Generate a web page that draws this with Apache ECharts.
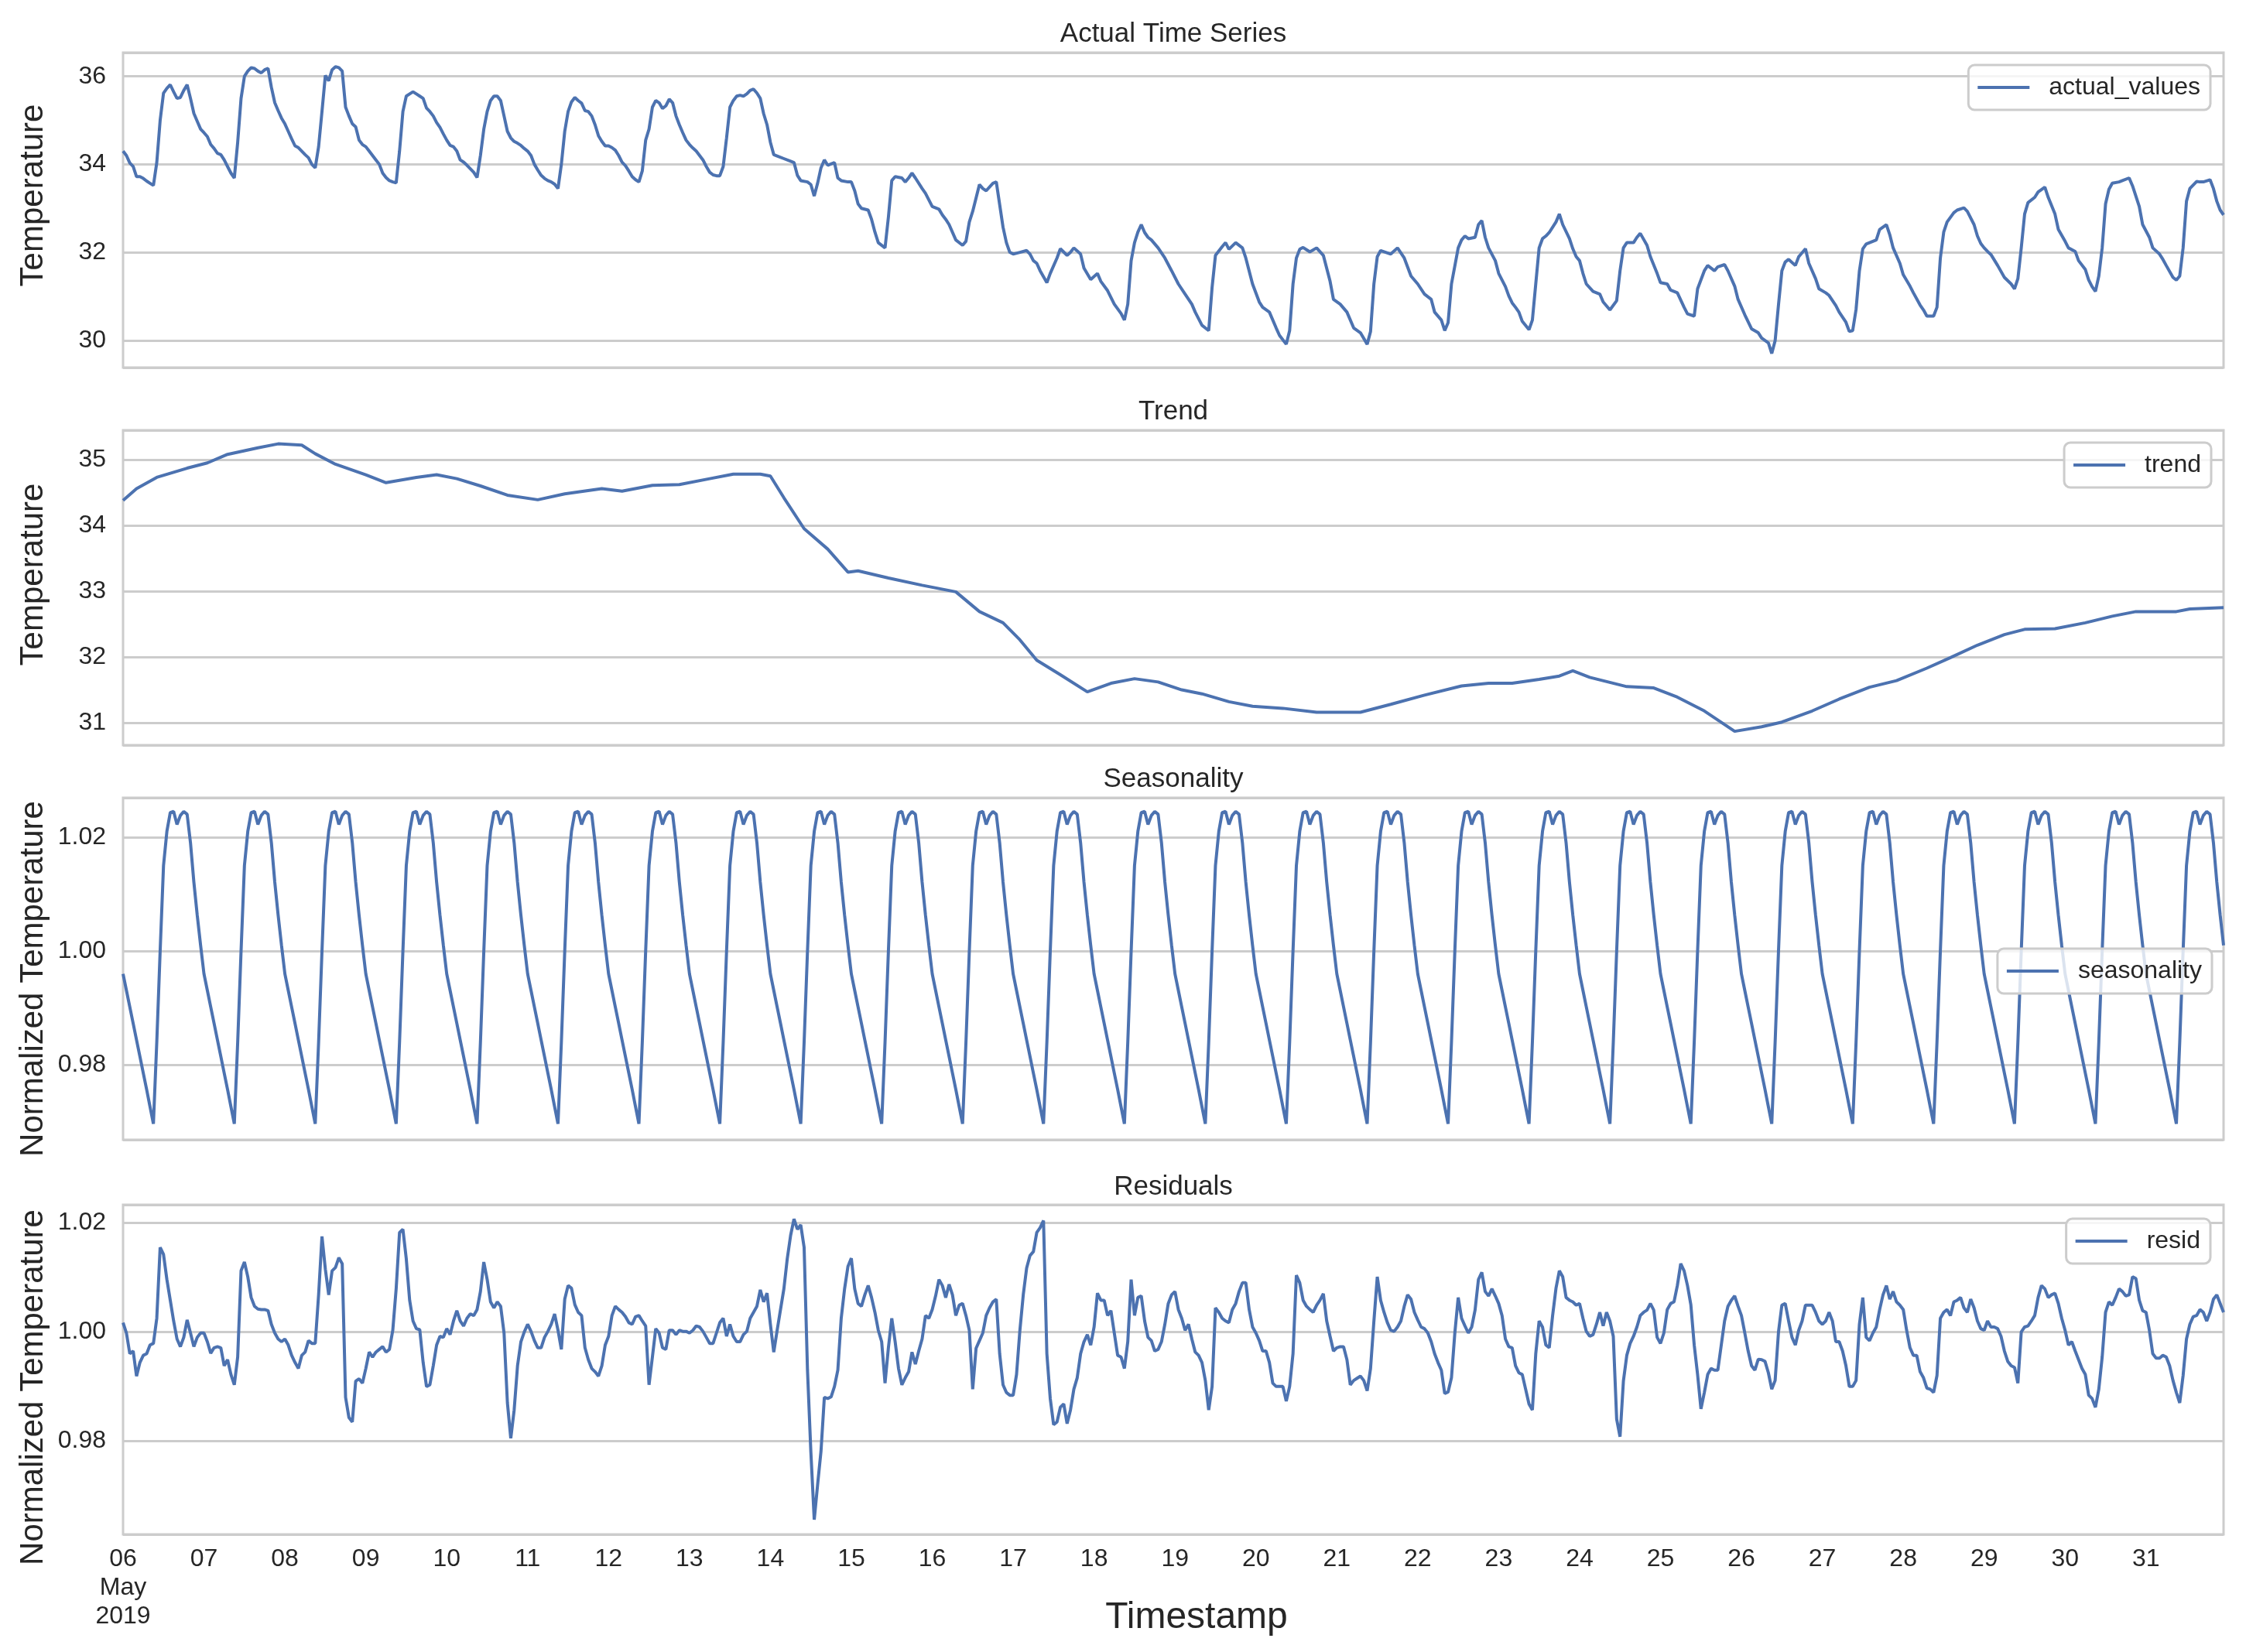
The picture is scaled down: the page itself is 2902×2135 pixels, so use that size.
<!DOCTYPE html>
<html>
<head>
<meta charset="utf-8">
<script src="https://cdn.jsdelivr.net/npm/echarts@6/dist/echarts.min.js"></script>
<style>
html,body{margin:0;padding:0;background:#ffffff;}
#chart{width:2902px;height:2135px;}
</style>
</head>
<body>
<div id="chart"></div>
<script>
// ---------- tick labels ----------
const xTickLabels = ['06\nMay\n2019','07','08','09','10','11','12','13','14','15','16','17','18','19','20','21','22','23','24','25','26','27','28','29','30','31'];
const panelTitles = ['Actual Time Series','Trend','Seasonality','Residuals'];
const seriesNames = ['actual_values','trend','seasonality','resid'];
const yNames = ['Temperature','Temperature','Normalized Temperature','Normalized Temperature'];

// ---------- actual values (hourly from 2019-05-06 00:00) ----------
const actualEarly = [
34.30,34.20,34.03,33.95,33.72,33.72,33.68,33.62,33.57,33.52,34.04,35.00,35.62,35.73,35.81,35.65,35.50,35.52,35.68,35.81,35.50,35.16,34.98,34.80,
34.72,34.63,34.45,34.36,34.25,34.22,34.10,33.95,33.80,33.69,34.50,35.50,36.00,36.12,36.20,36.18,36.12,36.08,36.15,36.18,35.75,35.40,35.22,35.05,
34.92,34.75,34.58,34.42,34.38,34.30,34.22,34.15,34.00,33.92,34.40,35.20,36.02,35.90,36.15,36.22,36.20,36.12,35.30,35.10,34.92,34.85,34.55,34.45,
34.40,34.30,34.20,34.10,34.00,33.80,33.70,33.63,33.60,33.58,34.30,35.20,35.55,35.60,35.65,35.60,35.55,35.50,35.28,35.20,35.10,34.95,34.84,34.69,
34.55,34.43,34.40,34.30,34.10,34.05,33.98,33.90,33.82,33.70,34.20,34.80,35.20,35.45,35.55,35.55,35.45,35.10,34.75,34.60,34.52,34.48,34.43,34.36,
34.30,34.20,34.00,33.87,33.75,33.68,33.63,33.60,33.55,33.45,34.00,34.75,35.20,35.42,35.52,35.45,35.39,35.22,35.20,35.10,34.90,34.65,34.52,34.42,
34.42,34.38,34.32,34.20,34.05,33.97,33.85,33.72,33.65,33.60,33.85,34.55,34.80,35.30,35.45,35.40,35.27,35.33,35.48,35.40,35.10,34.90,34.72,34.55,
34.45,34.37,34.30,34.20,34.10,33.95,33.82,33.76,33.74,33.74,33.95,34.60,35.30,35.45,35.55,35.57,35.55,35.60,35.68,35.71,35.62,35.50,35.15,34.90
];
// [hour offset, value]
const actualLate = [
[192,34.50],[193,34.22],[194,34.19],[196,34.13],[198,34.07],[199,34.04],[200,33.75],[201,33.63],[203,33.60],[204,33.54],[205,33.28],[206,33.57],[207,33.92],[208,34.10],[209,33.98],[211,34.04],[212,33.69],[213,33.63],[215,33.60],[216,33.60],[217,33.40],[218,33.10],[219,33.00],[221,32.96],[222,32.75],[223,32.46],[224,32.22],[226,32.10],[227,32.80],[228,33.63],[229,33.72],[231,33.69],[232,33.60],[233,33.69],[234,33.80],[235,33.69],[237,33.45],[238,33.34],[240,33.04],[242,32.98],[243,32.85],[244,32.75],[245,32.63],[247,32.28],[249,32.16],[250,32.25],[251,32.69],[252,32.93],[254,33.54],[255,33.45],[256,33.40],[258,33.57],[259,33.60],[261,32.57],[262,32.22],[263,32.00],[264,31.96],[266,32.00],[268,32.04],[269,31.96],[270,31.81],[271,31.75],[272,31.58],[274,31.31],[275,31.52],[277,31.87],[278,32.08],[280,31.93],[281,32.00],[282,32.10],[284,31.96],[285,31.64],[287,31.38],[289,31.52],[290,31.34],[292,31.13],[294,30.82],[296,30.61],[297,30.46],[298,30.82],[299,31.81],[300,32.22],[301,32.46],[302,32.63],[303,32.45],[304,32.34],[305,32.28],[307,32.10],[309,31.87],[311,31.58],[313,31.28],[315,31.05],[317,30.82],[318,30.64],[320,30.34],[322,30.22],[323,31.20],[324,31.93],[326,32.13],[327,32.22],[328,32.07],[330,32.22],[332,32.10],[333,31.87],[335,31.28],[337,30.87],[338,30.75],[340,30.64],[342,30.28],[343,30.11],[345,29.91],[346,30.22],[347,31.28],[348,31.87],[349,32.07],[350,32.11],[352,32.01],[354,32.10],[356,31.93],[358,31.34],[359,30.93],[361,30.82],[363,30.64],[365,30.28],[367,30.17],[369,29.91],[370,30.20],[371,31.28],[372,31.90],[373,32.04],[376,31.96],[378,32.10],[380,31.87],[382,31.46],[384,31.28],[386,31.05],[388,30.93],[389,30.64],[391,30.46],[392,30.22],[393,30.40],[394,31.28],[396,32.10],[397,32.28],[398,32.37],[399,32.31],[401,32.34],[402,32.63],[403,32.72],[404,32.34],[405,32.10],[407,31.81],[408,31.52],[410,31.22],[411,31.01],[412,30.85],[413,30.75],[414,30.64],[415,30.43],[417,30.24],[418,30.46],[419,31.28],[420,32.10],[421,32.31],[422,32.37],[423,32.45],[425,32.69],[426,32.87],[427,32.63],[429,32.31],[430,32.08],[431,31.90],[432,31.81],[433,31.52],[434,31.28],[436,31.11],[438,31.05],[439,30.87],[441,30.69],[443,30.90],[444,31.58],[445,32.10],[446,32.22],[448,32.22],[449,32.34],[450,32.43],[452,32.16],[453,31.90],[455,31.52],[456,31.31],[458,31.28],[459,31.14],[461,31.08],[463,30.75],[464,30.60],[466,30.55],[467,31.17],[469,31.58],[470,31.70],[472,31.58],[473,31.67],[475,31.72],[476,31.58],[478,31.23],[479,30.93],[481,30.58],[483,30.26],[485,30.17],[486,30.05],[488,29.94],[489,29.70],[490,29.99],[491,30.81],[492,31.58],[493,31.78],[494,31.84],[496,31.70],[497,31.90],[499,32.08],[500,31.75],[502,31.40],[503,31.17],[505,31.08],[506,31.02],[508,30.79],[509,30.64],[511,30.41],[512,30.20],[513,30.22],[514,30.70],[515,31.58],[516,32.08],[517,32.19],[519,32.25],[520,32.28],[521,32.52],[523,32.63],[524,32.40],[525,32.10],[527,31.75],[528,31.49],[530,31.23],[531,31.08],[533,30.80],[534,30.69],[535,30.55],[537,30.55],[538,30.75],[539,31.87],[540,32.46],[541,32.69],[543,32.90],[544,32.96],[546,33.01],[547,32.93],[549,32.63],[550,32.37],[551,32.20],[552,32.10],[553,32.02],[554,31.95],[556,31.70],[558,31.43],[560,31.28],[561,31.17],[562,31.40],[563,32.10],[564,32.87],[565,33.13],[567,33.25],[568,33.37],[570,33.48],[571,33.25],[573,32.87],[574,32.52],[576,32.25],[577,32.10],[579,32.02],[580,31.81],[582,31.61],[583,31.37],[584,31.22],[585,31.11],[586,31.46],[587,32.10],[588,33.10],[589,33.43],[590,33.57],[592,33.60],[593,33.63],[595,33.69],[596,33.51],[598,33.04],[599,32.63],[601,32.34],[602,32.10],[604,31.96],[605,31.84],[606,31.70],[608,31.43],[609,31.37],[610,31.46],[611,32.10],[612,33.16],[613,33.45],[615,33.61],[616,33.60],[617,33.60],[619,33.65],[620,33.45],[621,33.16],[622,32.96],[623,32.85]
];

// ---------- trend [hour offset, value] ----------
const trendPoints = [
[0,34.38],[4,34.56],[10,34.73],[19,34.87],[25,34.95],[31,35.08],[40,35.18],[46,35.24],[53,35.22],[57,35.09],[63,34.93],[72,34.77],[78,34.65],[87,34.73],[93,34.77],[99,34.71],[106,34.60],[114,34.46],[123,34.39],[131,34.48],[142,34.56],[148,34.52],[157,34.61],[165,34.62],[174,34.71],[181,34.78],[189,34.78],[192,34.75],[196,34.42],[202,33.95],[209,33.64],[215,33.29],[218,33.31],[227,33.20],[237,33.09],[247,32.99],[254,32.69],[261,32.52],[266,32.26],[271,31.95],[278,31.73],[286,31.47],[293,31.60],[300,31.67],[307,31.62],[314,31.50],[320,31.44],[328,31.32],[335,31.25],[344,31.22],[354,31.16],[367,31.16],[376,31.28],[386,31.42],[397,31.56],[405,31.60],[412,31.60],[420,31.66],[426,31.71],[430,31.79],[435,31.69],[446,31.55],[454,31.53],[461,31.39],[469,31.18],[478,30.87],[486,30.94],[492,31.01],[501,31.18],[509,31.36],[518,31.54],[526,31.64],[535,31.83],[542,31.99],[550,32.18],[558,32.34],[564,32.42],[573,32.43],[582,32.52],[590,32.62],[597,32.69],[609,32.69],[613,32.73],[623,32.75]
];

// ---------- seasonality: one daily cycle (hours 0..23), same every day ----------
const seasonalDay = [0.9960,0.9931,0.9902,0.9873,0.9844,0.9815,0.9786,0.9757,0.9727,0.9697,0.9840,1.0000,1.0150,1.0210,1.0243,1.0245,1.0222,1.0238,1.0245,1.0240,1.0190,1.0121,1.0063,1.0010];
const nDays = 26;

// ---------- residuals (hourly) ----------
const residValues = [
1.0017,0.9998,0.9960,0.9965,0.9919,0.9944,0.9957,0.9960,0.9976,0.9979,
1.0025,1.0155,1.0142,1.0096,1.0058,1.0020,0.9987,0.9973,0.9990,1.0022,
0.9998,0.9973,0.9990,0.9998,0.9998,0.9982,0.9961,0.9971,0.9973,0.9971,
0.9938,0.9949,0.9922,0.9903,0.9954,1.0112,1.0128,1.0101,1.0063,1.0047,
1.0042,1.0041,1.0041,1.0039,1.0014,0.9998,0.9987,0.9982,0.9987,0.9976,
0.9957,0.9944,0.9933,0.9957,0.9963,0.9984,0.9979,0.9979,1.0068,1.0175,
1.0115,1.0068,1.0112,1.0118,1.0136,1.0125,0.9880,0.9843,0.9835,0.9910,
0.9914,0.9906,0.9933,0.9963,0.9954,0.9963,0.9968,0.9973,0.9963,0.9968,
1.0003,1.0079,1.0182,1.0188,1.0134,1.0058,1.0020,1.0006,1.0004,0.9944,
0.9900,0.9903,0.9938,0.9976,0.9992,0.9990,1.0006,0.9995,1.0020,1.0039,
1.0020,1.0011,1.0025,1.0033,1.0030,1.0041,1.0074,1.0128,1.0096,1.0055,
1.0044,1.0055,1.0047,0.9998,0.9870,0.9805,0.9857,0.9938,0.9982,1.0000,
1.0014,1.0001,0.9984,0.9971,0.9971,0.9990,1.0001,1.0014,1.0033,1.0003,
0.9968,1.0060,1.0085,1.0080,1.0050,1.0036,1.0030,0.9971,0.9949,0.9933,
0.9927,0.9919,0.9938,0.9976,0.9992,1.0030,1.0047,1.0041,1.0036,1.0028,
1.0017,1.0014,1.0028,1.0030,1.0020,1.0011,0.9903,0.9954,1.0006,0.9998,
0.9971,0.9968,1.0003,1.0003,0.9995,1.0003,1.0001,1.0001,0.9998,1.0003,
1.0011,1.0009,1.0001,0.9990,0.9979,0.9979,0.9998,1.0017,1.0025,0.9992,
1.0014,0.9992,0.9982,0.9982,0.9995,1.0001,1.0025,1.0036,1.0047,1.0077,
1.0055,1.0071,1.0014,0.9963,1.0003,1.0041,1.0079,1.0134,1.0177,1.0207,
1.0188,1.0196,1.0155,0.9930,0.9780,0.9656,0.9720,0.9781,0.9880,0.9878,
0.9881,0.9900,0.9930,1.0025,1.0079,1.0120,1.0135,1.0079,1.0052,1.0047,
1.0068,1.0085,1.0063,1.0036,1.0003,0.9982,0.9906,0.9971,1.0025,0.9982,
0.9933,0.9903,0.9916,0.9927,0.9963,0.9941,0.9965,0.9987,1.0030,1.0025,
1.0041,1.0066,1.0096,1.0085,1.0063,1.0087,1.0068,1.0030,1.0049,1.0052,
1.0030,1.0003,0.9895,0.9970,0.9984,0.9998,1.0030,1.0044,1.0055,1.0060,
0.9960,0.9903,0.9889,0.9884,0.9884,0.9922,1.0003,1.0068,1.0117,1.0140,
1.0147,1.0182,1.0191,1.0204,0.9960,0.9878,0.9830,0.9835,0.9862,0.9868,
0.9832,0.9857,0.9895,0.9916,0.9960,0.9982,0.9995,0.9976,1.0009,1.0071,
1.0058,1.0058,1.0030,1.0039,0.9998,0.9957,0.9954,0.9933,0.9982,1.0096,
1.0030,1.0063,1.0066,1.0020,0.9990,0.9984,0.9965,0.9968,0.9982,1.0014,
1.0052,1.0068,1.0074,1.0041,1.0025,1.0003,1.0014,0.9987,0.9963,0.9957,
0.9944,0.9911,0.9857,0.9900,1.0044,1.0036,1.0025,1.0020,1.0017,1.0041,
1.0052,1.0074,1.0090,1.0090,1.0041,1.0009,0.9998,0.9984,0.9965,0.9965,
0.9944,0.9906,0.9900,0.9900,0.9900,0.9873,0.9900,0.9960,1.0104,1.0090,
1.0058,1.0047,1.0041,1.0036,1.0049,1.0058,1.0070,1.0020,0.9992,0.9965,
0.9971,0.9973,0.9973,0.9949,0.9903,0.9911,0.9915,0.9919,0.9911,0.9892,
0.9933,1.0020,1.0101,1.0058,1.0036,1.0017,1.0003,1.0001,1.0009,1.0020,
1.0047,1.0068,1.0060,1.0036,1.0022,1.0009,1.0006,0.9998,0.9982,0.9960,
0.9944,0.9930,0.9887,0.9890,0.9916,0.9998,1.0063,1.0025,1.0011,0.9998,
1.0009,1.0040,1.0096,1.0109,1.0074,1.0066,1.0079,1.0066,1.0052,1.0030,
0.9987,0.9973,0.9971,0.9938,0.9925,0.9922,0.9895,0.9868,0.9857,0.9960,
1.0020,1.0009,0.9976,0.9971,1.0030,1.0080,1.0112,1.0101,1.0063,1.0058,
1.0055,1.0049,1.0052,1.0025,1.0001,0.9992,0.9995,1.0014,1.0036,1.0011,
1.0036,1.0020,0.9992,0.9840,0.9808,0.9910,0.9957,0.9979,0.9992,1.0009,
1.0030,1.0036,1.0040,1.0052,1.0040,0.9990,0.9979,0.9998,1.0041,1.0052,
1.0055,1.0085,1.0125,1.0112,1.0085,1.0050,0.9976,0.9922,0.9859,0.9889,
0.9922,0.9933,0.9930,0.9930,0.9975,1.0020,1.0047,1.0058,1.0066,1.0047,
1.0030,0.9998,0.9965,0.9938,0.9930,0.9950,0.9949,0.9946,0.9925,0.9895,
0.9911,1.0000,1.0049,1.0052,1.0020,0.9990,0.9976,1.0003,1.0020,1.0049,
1.0049,1.0049,1.0036,1.0020,1.0014,1.0020,1.0036,1.0020,0.9982,0.9982,
0.9965,0.9938,0.9900,0.9900,0.9911,1.0014,1.0063,0.9990,0.9984,0.9998,
1.0009,1.0041,1.0068,1.0085,1.0060,1.0074,1.0055,1.0049,1.0041,1.0003,
0.9971,0.9957,0.9957,0.9927,0.9916,0.9897,0.9895,0.9889,0.9920,1.0025,
1.0036,1.0041,1.0030,1.0055,1.0058,1.0063,1.0044,1.0036,1.0060,1.0044,
1.0020,1.0006,1.0003,1.0020,1.0009,1.0009,1.0006,0.9992,0.9965,0.9946,
0.9938,0.9935,0.9906,1.0000,1.0009,1.0011,1.0020,1.0030,1.0063,1.0085,
1.0079,1.0063,1.0068,1.0071,1.0052,1.0025,1.0003,0.9976,0.9982,0.9965,
0.9949,0.9933,0.9922,0.9884,0.9878,0.9862,0.9895,0.9954,1.0036,1.0055,
1.0049,1.0063,1.0079,1.0074,1.0066,1.0068,1.0101,1.0098,1.0058,1.0039,
1.0036,1.0003,0.9960,0.9952,0.9952,0.9957,0.9954,0.9938,0.9911,0.9889,
0.9870,0.9920,0.9987,1.0014,1.0028,1.0030,1.0041,1.0036,1.0020,1.0036,
1.0060,1.0068,1.0052,1.0036
];

// ---------- build series data ----------
const actualData = actualEarly.map((v, i) => [i, v]).concat(actualLate);
const seasonData = [];
for (let d = 0; d < nDays; d++) {
  seasonalDay.forEach((v, h) => seasonData.push([d * 24 + h, v]));
}
const residData = residValues.map((v, i) => [i, v]);
const allData = [actualData, trendPoints, seasonData, residData];

// ---------- styling ----------
const FONT = 'Liberation Sans, Arial, Helvetica, sans-serif';
const TXT = '#262626';
const GRIDC = '#cccccc';
const LINEC = '#4c72b0';

const grids = [
  {top: 68, height: 407},
  {top: 556, height: 407},
  {top: 1031, height: 442},
  {top: 1557, height: 426}
];
const yRanges = [
  {min: 29.38, max: 36.54, step: 2, dec: 0},
  {min: 30.66, max: 35.447, step: 1, dec: 0},
  {min: 0.9669, max: 1.0269, step: 0.02, dec: 2},
  {min: 0.9629, max: 1.0233, step: 0.02, dec: 2}
];
const namePads = [[0,0,0,38],[0,0,0,34],[0,26,0,0],[0,46,0,0]];
const legendPos = [{right: 46, top: 84},{right: 45, top: 572},{right: 44, top: 1226},{right: 46, top: 1575}];
const titleTops = [27, 515, 990, 1517];

const option = {
  animation: false,
  backgroundColor: '#ffffff',
  textStyle: {fontFamily: FONT, color: TXT},
  title: panelTitles.map((t, i) => ({
    text: t, left: 1516, top: titleTops[i], textAlign: 'center', padding: 0,
    textStyle: {fontSize: 35, fontWeight: 'normal', color: TXT, fontFamily: FONT}
  })),
  legend: seriesNames.map((n, i) => ({
    data: [n], right: legendPos[i].right, top: legendPos[i].top,
    icon: 'rect', itemWidth: 67, itemHeight: 4, selectedMode: false,
    backgroundColor: 'rgba(255,255,255,0.8)', borderColor: GRIDC, borderWidth: 3, borderRadius: 8,
    padding: [13, 13, 13, 12],
    textStyle: {fontSize: 32, color: TXT, fontFamily: FONT, padding: [0, 0, 0, 20]}
  })),
  grid: grids.map(g => ({
    left: 159, right: 29, top: g.top, height: g.height,
    show: true, borderColor: GRIDC, borderWidth: 3, backgroundColor: 'transparent',
    outerBoundsMode: 'none', containLabel: false
  })),
  xAxis: grids.map((g, i) => ({
    type: 'value', gridIndex: i, min: 0, max: 623, interval: 24,
    axisLine: {show: false}, axisTick: {show: false}, splitLine: {show: false},
    axisLabel: {
      show: i === 3, fontSize: 32, color: TXT, fontFamily: FONT, lineHeight: 37, margin: 14,
      showMaxLabel: false,
      formatter: v => (v % 24 === 0 && xTickLabels[v / 24] !== undefined) ? xTickLabels[v / 24] : ''
    },
    name: i === 3 ? 'Timestamp' : '', nameLocation: 'middle', nameGap: 84, nameMoveOverlap: false,
    nameTextStyle: {fontSize: 48, color: TXT, fontFamily: FONT, padding: [0, 0, 0, 60]}
  })),
  yAxis: yRanges.map((r, i) => ({
    type: 'value', gridIndex: i, min: r.min, max: r.max,
    minInterval: r.step, maxInterval: r.step,
    axisLine: {show: false}, axisTick: {show: false},
    splitLine: {show: true, lineStyle: {color: GRIDC, width: 3}},
    axisLabel: {
      fontSize: 32, color: TXT, fontFamily: FONT, margin: 22,
      showMinLabel: false, showMaxLabel: false,
      formatter: v => v.toFixed(r.dec)
    },
    name: yNames[i], nameLocation: 'middle', nameGap: 95, nameMoveOverlap: false,
    nameTextStyle: {fontSize: 42, color: TXT, fontFamily: FONT, padding: namePads[i]}
  })),
  series: seriesNames.map((n, i) => ({
    name: n, type: 'line', xAxisIndex: i, yAxisIndex: i,
    data: allData[i], showSymbol: false, symbol: 'none', smooth: false,
    lineStyle: {color: LINEC, width: 4}, itemStyle: {color: LINEC},
    emphasis: {disabled: true}
  }))
};

const chart = echarts.init(document.getElementById('chart'), null, {renderer: 'canvas'});
chart.setOption(option);
</script>
</body>
</html>
